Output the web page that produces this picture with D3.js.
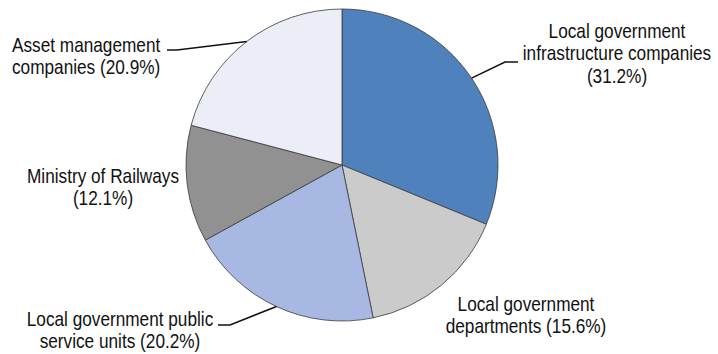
<!DOCTYPE html>
<html>
<head>
<meta charset="utf-8">
<script src="https://cdn.jsdelivr.net/npm/d3@7"></script>
<style>
  html, body { margin: 0; padding: 0; background: #fff; }
  svg { display: block; }
  text { font-family: "Liberation Sans", Arial, sans-serif; font-size: 21px; fill: #111; }
</style>
</head>
<body>
<svg id="chart" width="718" height="354"></svg>
<script>
// Share of local government debt by borrower type (%)
const categories = [
  "Local government infrastructure companies",
  "Local government departments",
  "Local government public service units",
  "Ministry of Railways",
  "Asset management companies"
];
const shares = [31.2, 15.6, 20.2, 12.1, 20.9];
const labelLines = [
  ["Local government", "infrastructure companies", "(31.2%)"],
  ["Local government", "departments (15.6%)"],
  ["Local government public", "service units (20.2%)"],
  ["Ministry of Railways", "(12.1%)"],
  ["Asset management", "companies (20.9%)"]
];
const sliceColors = ["#4F81BD", "#CBCBCB", "#A7B8E2", "#919191", "#EBEEF7"];

// Label placement: anchor point, alignment, and optional leader elbow
const labelLayout = [
  { x: 617, y: 38, anchor: "middle", elbow: [505, 62], end: [518, 62] },
  { x: 526, y: 311, anchor: "middle" },
  { x: 120, y: 326, anchor: "middle", elbow: [230, 325], end: [218, 325] },
  { x: 103, y: 183, anchor: "middle" },
  { x: 12, y: 52, anchor: "start", elbow: [177, 50], end: [167, 50] }
];
const lineHeight = 22.5;
const narrow = 0.82; // horizontal condensing of the label face

const svg = d3.select("#chart");
const cx = 342, cy = 165, radius = 156;
const g = svg.append("g").attr("transform", `translate(${cx},${cy})`);

const pie = d3.pie().sort(null).value(d => d.value);
const arcs = pie(categories.map((c, i) => ({ name: c, value: shares[i], i })));
const arc = d3.arc().innerRadius(0).outerRadius(radius);

g.selectAll("path.slice")
  .data(arcs)
  .join("path")
  .attr("class", "slice")
  .attr("d", arc)
  .attr("fill", d => sliceColors[d.data.i])
  .attr("stroke", "#3a3a3a")
  .attr("stroke-width", 0.8)
  .attr("stroke-linejoin", "round");

// Leader lines from each slice's mid-angle on the rim
arcs.forEach(d => {
  const lay = labelLayout[d.data.i];
  if (!lay.elbow) return;
  const a = (d.startAngle + d.endAngle) / 2;
  const px = cx + radius * Math.sin(a);
  const py = cy - radius * Math.cos(a);
  svg.append("path")
    .attr("d", d3.line()([[px, py], lay.elbow, lay.end]))
    .attr("fill", "none")
    .attr("stroke", "#111")
    .attr("stroke-width", 1.6);
});

// Labels
arcs.forEach(d => {
  const lay = labelLayout[d.data.i];
  const t = svg.append("text")
    .attr("text-anchor", lay.anchor)
    .attr("transform", `translate(${lay.x},${lay.y}) scale(${narrow},1)`);
  labelLines[d.data.i].forEach((line, k) => {
    t.append("tspan")
      .attr("x", 0)
      .attr("y", k * lineHeight)
      .text(line);
  });
});
</script>
</body>
</html>
